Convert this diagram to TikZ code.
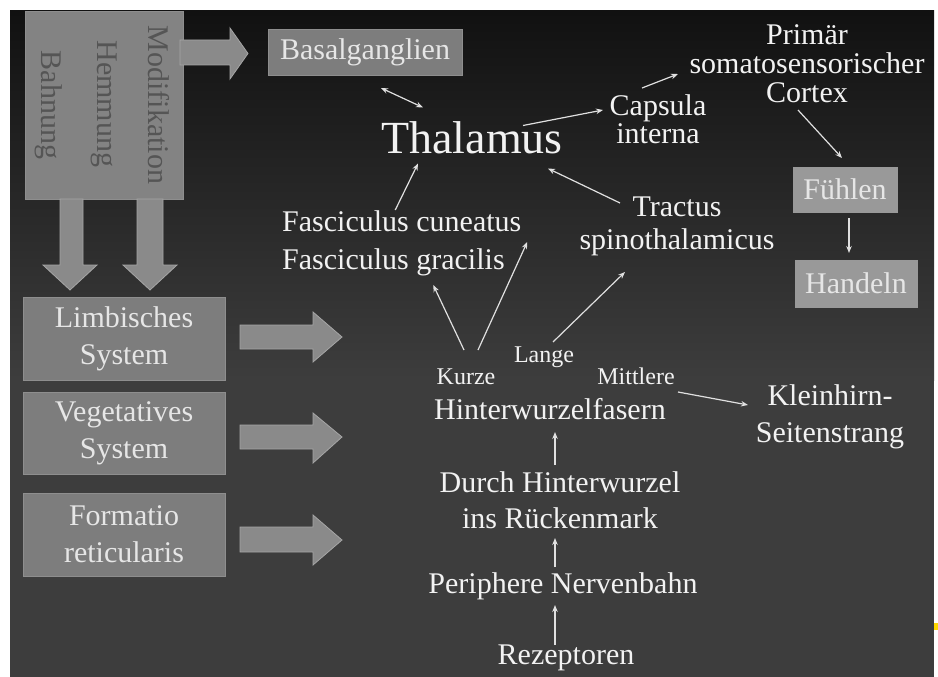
\documentclass[tikz,border=0pt]{standalone}
\usepackage{fontspec}
\setmainfont{Liberation Serif}
\usetikzlibrary{arrows.meta}
\definecolor{bgtop}{HTML}{111111}
\definecolor{bgbot}{HTML}{3D3D3D}
\definecolor{boxc}{HTML}{7D7D7D}
\definecolor{lightbox}{HTML}{999999}
\definecolor{bigc}{HTML}{838383}
\definecolor{boxedge}{HTML}{8E8E8E}
\definecolor{barc}{HTML}{8A8A8A}
\definecolor{baredge}{HTML}{A6A6A6}
\definecolor{txtc}{HTML}{F2F2F2}
\definecolor{btxt}{HTML}{E6E6E6}
\definecolor{rtxt}{HTML}{555555}
\definecolor{linec}{HTML}{E0E0E0}
\definecolor{marky}{HTML}{FFD700}
\begin{document}
\begin{tikzpicture}[x=1pt,y=-1pt,
  txt/.style={text=txtc, inner sep=0pt, align=center, font=\fontsize{30}{30}\selectfont},
  small/.style={text=txtc, inner sep=0pt, font=\fontsize{24}{24}\selectfont},
  gbox/.style={fill=boxc, draw=boxedge, line width=0.8pt, inner sep=0pt, text=btxt, align=center, font=\fontsize{30}{37}\selectfont},
  rot/.style={text=rtxt, inner sep=0pt, rotate=-90, font=\fontsize{30}{30}\selectfont},
  thin/.style={draw=linec, line width=1.2pt, -{Stealth[length=7pt,width=5.5pt]}},
  both/.style={draw=linec, line width=1.2pt, {Stealth[length=7pt,width=5.5pt]}-{Stealth[length=7pt,width=5.5pt]}},
  barrow/.style={fill=barc, draw=baredge, line width=0.8pt, line join=miter}
]
\useasboundingbox (0,0) rectangle (938,677);
\fill[white] (0,0) rectangle (938,677);
% background
\shade[top color=bgtop, bottom color=bgbot] (10,11) rectangle (934,380);
\fill[bgbot] (10,379.5) rectangle (934,677);
\fill[marky] (934,623) rectangle (938,630);

% top-left box
\node[gbox, fill=bigc, minimum width=158pt, minimum height=188pt] (big) at (104,105) {};
\node[rot] (modi) at (159,105) {Modifikation};
\node[rot] (hemm) at (104,104) {Hemmung};
\node[rot] (bahn) at (48.5,105) {Bahnung};

% block arrows
\draw[barrow] (180,40) -- (230,40) -- (230,28) -- (248,53.5) -- (230,79) -- (230,65) -- (180,65) -- cycle;
\draw[barrow] (60,199) -- (60,265) -- (43,265) -- (70,290) -- (97,265) -- (83,265) -- (83,199) -- cycle;
\draw[barrow] (137,199) -- (137,265) -- (123,265) -- (150,290) -- (177,265) -- (163,265) -- (163,199) -- cycle;
\draw[barrow] (240,325) -- (313,325) -- (313,312) -- (342,337) -- (313,362) -- (313,349) -- (240,349) -- cycle;
\draw[barrow] (240,425) -- (313,425) -- (313,413) -- (342,437) -- (313,463) -- (313,449) -- (240,449) -- cycle;
\draw[barrow] (240,527) -- (313,527) -- (313,515) -- (342,540) -- (313,565) -- (313,552) -- (240,552) -- cycle;

% left boxes
\node[gbox, minimum width=202pt, minimum height=83pt] (limb) at (124,338.5) {Limbisches\\System};
\node[gbox, minimum width=202pt, minimum height=82pt] (veg) at (124,433) {Vegetatives\\System};
\node[gbox, minimum width=202pt, minimum height=83pt] (form) at (124,534.5) {Formatio\\reticularis};

% boxes right
\node[gbox, minimum width=194pt, minimum height=46pt] (basal) at (365,52) {Basalganglien};
\node[gbox, fill=lightbox, draw=lightbox, minimum width=104pt, minimum height=45pt] (fuhl) at (845,189.5) {Fühlen};
\node[gbox, fill=lightbox, draw=lightbox, minimum width=122pt, minimum height=47pt] (hand) at (856,283.5) {Handeln};

% texts
\node[txt, font=\fontsize{46}{46}\selectfont] (thal) at (472,137.5) {Thalamus};
\node[txt, font=\fontsize{30}{29}\selectfont] (prim) at (807,63.5) {Primär\\somatosensorischer\\Cortex};
\node[txt, font=\fontsize{30}{28}\selectfont] (caps) at (658,119) {Capsula\\interna};
\node[txt, font=\fontsize{30}{33}\selectfont] (tract) at (677,226.5) {Tractus\\spinothalamicus};
\node[txt, align=left, font=\fontsize{30}{38}\selectfont, anchor=west] (fasc) at (282,243) {Fasciculus cuneatus\\Fasciculus gracilis};
\node[small] (kurze) at (466,377) {Kurze};
\node[small] (lange) at (544,357) {Lange};
\node[small] (mitt) at (636,376.5) {Mittlere};
\node[txt] (hint) at (550,409) {Hinterwurzelfasern};
\node[txt, font=\fontsize{30}{37}\selectfont] (klein) at (830,417) {Kleinhirn-\\Seitenstrang};
\node[txt, font=\fontsize{30}{36}\selectfont] (durch) at (560,500) {Durch Hinterwurzel\\ins Rückenmark};
\node[txt] (peri) at (563,586) {Periphere Nervenbahn};
\node[txt] (rez) at (566,658) {Rezeptoren};

% thin connectors
\draw[both] ([shift={(16,36)}]basal.center) -- ([shift={(-49,-30)}]thal.center);
\draw[thin] ([shift={(51,-12)}]thal.center) -- ([shift={(-55,-9)}]caps.center);
\draw[thin] ([shift={(-16,-31)}]caps.center) -- ([shift={(-129,10.5)}]prim.center);
\draw[thin] ([shift={(-9,46.5)}]prim.center) -- ([shift={(-3,-31.5)}]fuhl.center);
\draw[thin] ([shift={(4,28.5)}]fuhl.center) -- ([shift={(-7,-30.5)}]hand.center);
\draw[thin] ([shift={(-57,-23.5)}]tract.center) -- ([shift={(76,31)}]thal.center);
\draw[thin] ([shift={(-6.5,-33)}]fasc.center) -- ([shift={(-54,26)}]thal.center);
\draw[thin] ([shift={(-2,-27)}]kurze.center) -- ([shift={(31.5,42)}]fasc.center);
\draw[thin] ([shift={(12,-27)}]kurze.center) -- ([shift={(125.5,-1)}]fasc.center);
\draw[thin] ([shift={(9,-15)}]lange.center) -- ([shift={(-52,45.5)}]tract.center);
\draw[thin] ([shift={(42,15.5)}]mitt.center) -- ([shift={(-82,-12)}]klein.center);
\draw[thin] ([shift={(-5,-35)}]durch.center) -- ([shift={(5,23)}]hint.center);
\draw[thin] ([shift={(-8,-19)}]peri.center) -- ([shift={(-5,38)}]durch.center);
\draw[thin] ([shift={(-11,-13)}]rez.center) -- ([shift={(-8,19)}]peri.center);
\end{tikzpicture}
\end{document}
